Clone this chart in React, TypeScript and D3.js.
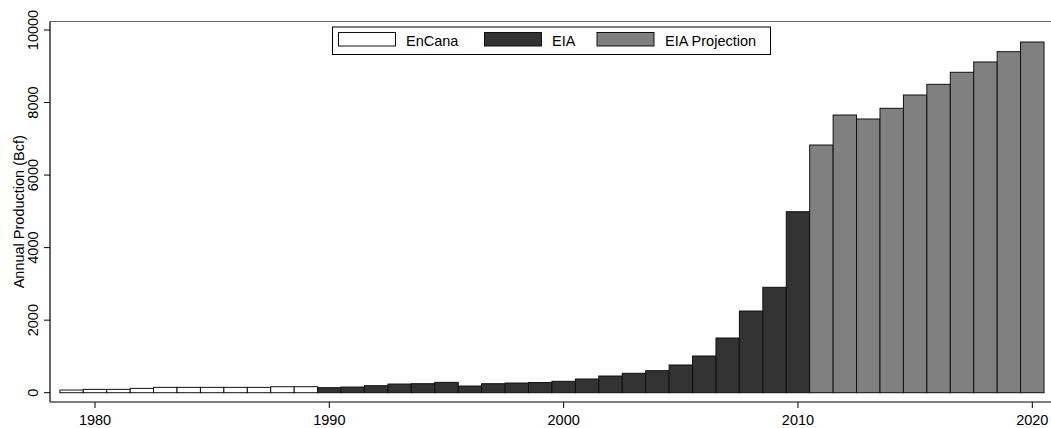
import { scaleLinear } from 'd3'

// annual production (Bcf)
const encanaYears = [1979, 1980, 1981, 1982, 1983, 1984, 1985, 1986, 1987, 1988, 1989]
const encanaValues = [74, 92, 92, 119, 147, 147, 147, 147, 147, 165, 165]

const eiaYears = [
	1990, 1991, 1992, 1993, 1994, 1995, 1996, 1997, 1998, 1999, 2000, 2001, 2002, 2003,
	2004, 2005, 2006, 2007, 2008, 2009, 2010,
]
const eiaValues = [
	138, 156, 193, 239, 248, 285, 184, 248, 267, 280, 314, 378, 460, 535, 607, 764, 1012,
	1508, 2252, 2906, 4990,
]

const projYears = [2011, 2012, 2013, 2014, 2015, 2016, 2017, 2018, 2019, 2020]
const projValues = [6829, 7656, 7546, 7841, 8208, 8502, 8834, 9118, 9402, 9669]

const xTicks = [1980, 1990, 2000, 2010, 2020]
const yTicks = [0, 2000, 4000, 6000, 8000, 10000]

const seriesNames = ['EnCana', 'EIA', 'EIA Projection']
const seriesFills = ['#ffffff', '#333333', '#808080']

const width = 1051
const height = 428
const font = 'Arial, "Liberation Sans", Helvetica, sans-serif'

export default function App() {
	const x = scaleLinear().domain([1980, 2020]).range([95, 1032.3])
	const y = scaleLinear().domain([0, 10000]).range([392.7, 30])

	const axisLeft = 50
	const axisBottom = 402
	const plotTop = 21.5
	const step = x(1981) - x(1980)

	const series = [
		{ years: encanaYears, values: encanaValues },
		{ years: eiaYears, values: eiaValues },
		{ years: projYears, values: projValues },
	]

	// legend layout
	const legend = [
		{ sx: 338.5, tx: 406 },
		{ sx: 484.5, tx: 552 },
		{ sx: 597, tx: 665 },
	]

	return (
		<svg
			width={width}
			height={height}
			style={{ position: 'absolute', left: 0, top: 0, background: '#fff' }}
			fontFamily={font}
		>
			{/* plot region frame */}
			<line x1={axisLeft} x2={width} y1={plotTop} y2={plotTop} stroke='#666' strokeWidth={1.2} />

			{/* bars */}
			{series.map((s, si) =>
				s.years.map((yr, i) => (
					<rect
						key={`${si}-${yr}`}
						x={x(yr) - step / 2}
						y={y(s.values[i])}
						width={step}
						height={y(0) - y(s.values[i])}
						fill={seriesFills[si]}
						stroke='#111'
						strokeWidth={1}
					/>
				))
			)}

			{/* y axis */}
			<line x1={axisLeft} x2={axisLeft} y1={plotTop} y2={axisBottom} stroke='#000' strokeWidth={1.2} />
			{yTicks.map((t) => (
				<g key={t} transform={`translate(${axisLeft},${y(t)})`}>
					<line x1={-6} x2={0} stroke='#000' strokeWidth={1} />
					<text
						transform='translate(-12,0) rotate(-90)'
						textAnchor='middle'
						fontSize={14.5}
						fill='#000'
					>
						{t}
					</text>
				</g>
			))}
			<text
				transform={`translate(24,${(plotTop + axisBottom) / 2}) rotate(-90)`}
				textAnchor='middle'
				fontSize={14.5}
				fill='#000'
			>
				Annual Production (Bcf)
			</text>

			{/* x axis */}
			<line x1={axisLeft} x2={width} y1={axisBottom} y2={axisBottom} stroke='#000' strokeWidth={1.2} />
			{xTicks.map((t) => (
				<g key={t} transform={`translate(${x(t)},${axisBottom})`}>
					<line y1={0} y2={6} stroke='#000' strokeWidth={1} />
					<text y={23} textAnchor='middle' fontSize={14.5} fill='#000'>
						{t}
					</text>
				</g>
			))}

			{/* legend */}
			<rect x={332.5} y={27} width={438} height={27.5} fill='#fff' stroke='#000' strokeWidth={1} />
			{seriesNames.map((name, i) => (
				<g key={name}>
					<rect
						x={legend[i].sx}
						y={32.5}
						width={57}
						height={13.5}
						fill={seriesFills[i]}
						stroke='#111'
						strokeWidth={1}
					/>
					<text x={legend[i].tx} y={45.5} fontSize={14.5} fill='#000'>
						{name}
					</text>
				</g>
			))}
		</svg>
	)
}
